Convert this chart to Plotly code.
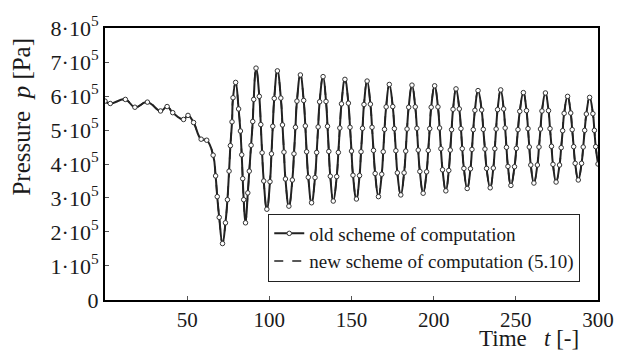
import plotly.graph_objects as go

# Time t [-]
t_vals = [
    0.0, 3.2, 12.4, 18.2, 25.8, 33.8, 37.8, 41.2, 47.8, 50.5, 53.9, 58.5, 61.9,
    65.8, 67.3, 68.3, 69.5, 71.5, 73.3, 74.5, 75.5, 76.3, 77.3, 77.9, 79.5,
    81.3, 82.4, 83.2, 83.8, 84.4, 85.5, 86.9, 87.8, 88.9, 89.9, 90.5, 91.9,
    93.9, 94.8, 95.6, 96.6, 98.5, 100.4, 101.3, 102.1, 103.0, 104.9,
    107.0, 108.0, 108.9, 109.8, 111.9, 114.0, 115.0, 115.9, 116.8, 118.9,
    120.9, 121.9, 122.7, 123.7, 125.7, 127.8, 128.8, 129.7, 130.6, 132.7,
    134.5, 135.4, 136.2, 137.1, 138.9, 141.0, 142.0, 142.9, 143.9, 146.0,
    148.1, 149.1, 150.0, 150.9, 153.0, 154.9, 155.8, 156.7, 157.6, 159.5,
    161.5, 162.5, 163.4, 164.4, 166.4, 168.4, 169.3, 170.1, 171.1, 173.0,
    175.1, 176.1, 177.0, 177.9, 180.0, 182.0, 183.0, 183.8, 184.8, 186.8,
    188.8, 189.8, 190.6, 191.6, 193.6, 195.7, 196.7, 197.6, 198.5, 200.6,
    202.6, 203.6, 204.4, 205.4, 207.4, 209.2, 210.1, 210.9, 211.8, 213.6,
    215.6, 216.6, 217.4, 218.4, 220.4, 222.4, 223.3, 224.1, 225.1, 227.0,
    229.2, 230.2, 231.2, 232.2, 234.4, 236.3, 237.2, 238.0, 238.9, 240.8,
    242.6, 243.5, 244.3, 245.2, 247.0, 249.2, 250.3, 251.3, 252.4, 254.6,
    256.5, 257.4, 258.2, 259.1, 261.0, 263.1, 264.1, 265.0, 265.9, 268.0,
    269.9, 270.8, 271.7, 272.6, 274.5, 276.6, 277.6, 278.5, 279.4, 281.5,
    283.4, 284.3, 285.2, 286.1, 288.0, 290.0, 291.0, 291.9, 292.9, 294.9,
    296.9, 297.8, 298.6, 300.0,
]

# Pressure p in units of 10^5 Pa
p_vals = [
    5.85, 5.78, 5.90, 5.67, 5.82, 5.56, 5.69, 5.51, 5.31, 5.43, 5.22, 4.73, 4.70,
    4.26, 3.65, 3.04, 2.43, 1.66, 2.27, 2.95, 3.79, 4.54, 5.24, 5.95, 6.40,
    5.62, 4.97, 4.27, 3.57, 2.95, 2.27, 3.15, 3.79, 4.55, 5.25, 5.90, 6.82,
    5.99, 5.16, 4.33, 3.50, 2.67, 3.48, 4.30, 5.11, 5.93, 6.74,
    5.94, 5.15, 4.35, 3.56, 2.76, 3.53, 4.30, 5.08, 5.85, 6.62,
    5.87, 5.12, 4.36, 3.61, 2.86, 3.60, 4.34, 5.09, 5.83, 6.57,
    5.84, 5.11, 4.37, 3.64, 2.91, 3.63, 4.34, 5.06, 5.77, 6.49,
    5.79, 5.08, 4.38, 3.67, 2.97, 3.66, 4.36, 5.05, 5.75, 6.44,
    5.76, 5.08, 4.40, 3.72, 3.04, 3.70, 4.36, 5.02, 5.68, 6.34,
    5.69, 5.04, 4.39, 3.74, 3.09, 3.74, 4.38, 5.03, 5.67, 6.32,
    5.68, 5.05, 4.41, 3.78, 3.14, 3.77, 4.40, 5.04, 5.67, 6.30,
    5.68, 5.06, 4.45, 3.83, 3.21, 3.81, 4.41, 5.01, 5.61, 6.21,
    5.62, 5.04, 4.45, 3.87, 3.28, 3.86, 4.43, 5.01, 5.58, 6.16,
    5.59, 5.02, 4.44, 3.87, 3.30, 3.88, 4.45, 5.03, 5.60, 6.18,
    5.62, 5.06, 4.49, 3.93, 3.37, 3.92, 4.46, 5.01, 5.55, 6.10,
    5.57, 5.04, 4.50, 3.97, 3.44, 3.97, 4.50, 5.03, 5.56, 6.09,
    5.57, 5.04, 4.52, 3.99, 3.47, 3.97, 4.48, 4.98, 5.49, 5.99,
    5.50, 5.01, 4.51, 4.02, 3.53, 4.02, 4.50, 4.99, 5.47, 5.96,
    5.48, 4.99, 4.51, 4.00,
]

series_names = ["old scheme of computation", "new scheme of computation (5.10)"]

x_tickvals = [50, 100, 150, 200, 250, 300]
x_ticktext = ["50", "100", "150", "200", "250", "300"]
y_tickvals = [0, 1, 2, 3, 4, 5, 6, 7, 8]
y_ticktext = ["0"] + [f"{k}·10<sup>5</sup>" for k in range(1, 9)]

FONT = "Liberation Serif"
LINE_COL = "#222222"
TXT_COL = "#1a1a1a"

fig = go.Figure()
fig.add_trace(go.Scatter(
    x=t_vals, y=p_vals, name=series_names[1], mode="lines",
    line=dict(color=LINE_COL, width=1.6, dash="dash", shape="spline", smoothing=1.3),
    hoverinfo="skip",
))
fig.add_trace(go.Scatter(
    x=t_vals, y=p_vals, name=series_names[0], mode="lines+markers",
    line=dict(color=LINE_COL, width=2, shape="spline", smoothing=1.3),
    marker=dict(symbol="circle", size=4.5, color="white",
                line=dict(color="#333333", width=1)),
))

fig.update_layout(
    width=626, height=350,
    margin=dict(l=105, r=21, t=15, b=50),
    paper_bgcolor="white", plot_bgcolor="white",
    font=dict(family=FONT, size=22, color=TXT_COL),
    showlegend=True,
    legend=dict(
        x=0.964, y=0.193, xanchor="right", yanchor="middle",
        bgcolor="white", bordercolor="#222222", borderwidth=1,
        font=dict(family=FONT, size=19, color=TXT_COL),
        itemwidth=30, tracegroupgap=0, traceorder="reversed",
    ),
    annotations=[
        dict(text="Pressure  <i>p</i> [Pa]", xref="paper", yref="paper",
             x=-0.17, y=0.675, xanchor="center", yanchor="middle",
             textangle=-90, showarrow=False,
             font=dict(family=FONT, size=25, color=TXT_COL)),
        dict(text="Time   <i>t</i> [-]", xref="paper", yref="paper",
             x=0.966, y=-0.088, xanchor="right", yanchor="top",
             showarrow=False,
             font=dict(family=FONT, size=23, color=TXT_COL)),
    ],
)
fig.update_xaxes(
    range=[0, 300.001], tickvals=x_tickvals, ticktext=x_ticktext,
    ticks="inside", ticklen=4, tickcolor="#555555", tickwidth=1,
    tickfont=dict(family=FONT, size=21, color=TXT_COL),
    showgrid=False, zeroline=False,
    showline=True, linecolor="black", linewidth=2, mirror=True,
)
fig.update_yaxes(
    range=[-0.001, 8.001], tickvals=y_tickvals, ticktext=y_ticktext,
    ticks="inside", ticklen=4, tickcolor="#555555", tickwidth=1,
    ticklabeloverflow="allow",
    showgrid=False, zeroline=False,
    showline=True, linecolor="black", linewidth=2, mirror=True,
)

fig.write_html("out.html")
